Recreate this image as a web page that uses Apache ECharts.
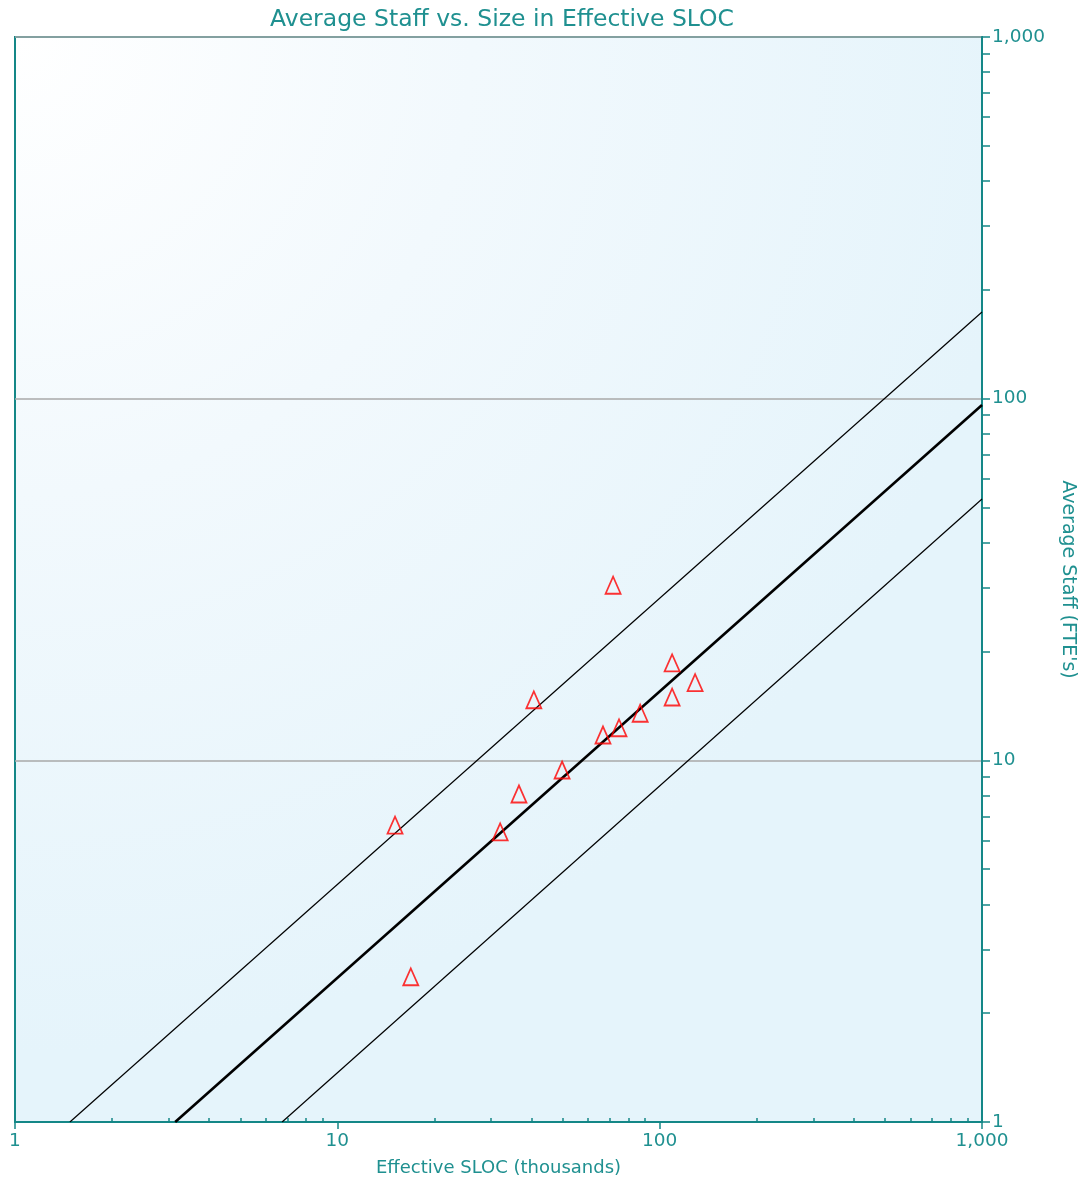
<!DOCTYPE html>
<html>
<head>
<meta charset="utf-8">
<script src="https://cdn.jsdelivr.net/npm/echarts@6/dist/echarts.min.js"></script>
<style>
  html, body { margin: 0; padding: 0; background: #ffffff; }
  #chart { width: 1083px; height: 1181px; }
</style>
</head>
<body>
<div id="chart"></div>
<script>
// Project observations: size (thousands of effective SLOC) vs. average staff (FTE's)
const sizeKsloc = [15.1, 16.9, 32.0, 36.6, 40.7, 49.8, 66.7, 74.8, 71.7, 87.0, 109.3, 109.3, 128.8];
const avgStaff  = [6.62, 2.52, 6.34, 8.07, 14.7, 9.40, 11.75, 12.3, 30.5, 13.5, 18.6, 14.96, 16.4];

// Trend line and its +/- one standard deviation bands (end points on the plot edges)
const trendX = [3.14, 1000];
const trendY = [1, 96];
const upperX = [1.48, 1000];
const upperY = [1, 173.6];
const lowerX = [6.74, 1000];
const lowerY = [1, 52.8];

// Axis ticks
const majorTicks = [1, 10, 100, 1000];
const minorTicks = [2, 3, 4, 5, 6, 7, 8, 9, 20, 30, 40, 50, 60, 70, 80, 90, 200, 300, 400, 500, 600, 700, 800, 900];

const teal = '#148787';
const tealText = '#1f9090';
const font = 'DejaVu Sans';

const zip = (xs, ys) => xs.map((x, i) => [x, ys[i]]);
const fmt = v => Number(v).toLocaleString('en-US');

const chart = echarts.init(document.getElementById('chart'), null, { renderer: 'canvas' });

chart.setOption({
  animation: false,
  title: {
    text: 'Average Staff vs. Size in Effective SLOC',
    left: 497, top: 3, textAlign: 'center',
    textStyle: { color: tealText, fontFamily: font, fontWeight: 'normal', fontSize: 23.5 }
  },
  grid: {
    left: 15, right: 101, top: 37, bottom: 59,
    outerBoundsMode: 'none',
    containLabel: false,
    show: true,
    borderColor: teal, borderWidth: 2,
    backgroundColor: {
      type: 'radial', x: 0, y: 0, r: 1.05,
      colorStops: [
        { offset: 0, color: '#ffffff' },
        { offset: 0.45, color: '#f2f9fd' },
        { offset: 1, color: '#e5f4fb' }
      ]
    }
  },
  xAxis: [
    {
      type: 'log', logBase: 10, min: 1, max: 1000,
      position: 'bottom',
      name: 'Effective SLOC (thousands)',
      nameLocation: 'middle', nameGap: 37,
      nameTextStyle: { color: tealText, fontFamily: font, fontSize: 18 },
      axisLine: { show: true, lineStyle: { color: teal, width: 2 } },
      axisTick: { show: true, inside: false, length: 7, lineStyle: { color: teal, width: 1.5 }, customValues: majorTicks },
      axisLabel: { show: true, margin: 10, color: tealText, fontFamily: font, fontSize: 18.5, formatter: fmt, customValues: majorTicks },
      splitLine: { show: false },
      minorTick: { show: false }
    },
    {
      type: 'log', logBase: 10, min: 1, max: 1000,
      position: 'bottom',
      axisLine: { show: false },
      axisTick: { show: true, inside: true, length: 4, lineStyle: { color: teal, width: 1.5 }, customValues: minorTicks },
      axisLabel: { show: false },
      splitLine: { show: false }
    }
  ],
  yAxis: [
    {
      type: 'log', logBase: 10, min: 1, max: 1000,
      position: 'right',
      name: "Average Staff (FTE's)",
      nameLocation: 'middle', nameGap: 76, nameRotate: -90,
      nameTextStyle: { color: tealText, fontFamily: font, fontSize: 19 },
      axisLine: { show: true, lineStyle: { color: teal, width: 2 } },
      axisTick: { show: true, inside: false, length: 8, lineStyle: { color: teal, width: 1.5 }, customValues: majorTicks },
      axisLabel: { show: true, margin: 10, color: tealText, fontFamily: font, fontSize: 18.5, formatter: fmt, customValues: majorTicks },
      splitLine: { show: true, lineStyle: { color: '#a9a9a9', width: 1.5 } }
    },
    {
      type: 'log', logBase: 10, min: 1, max: 1000,
      position: 'right',
      axisLine: { show: false },
      axisTick: { show: true, inside: false, length: 8, lineStyle: { color: teal, width: 1.5 }, customValues: minorTicks },
      axisLabel: { show: false },
      splitLine: { show: false }
    }
  ],
  series: [
    {
      type: 'line', data: zip(upperX, upperY), symbol: 'none', silent: true,
      lineStyle: { color: '#000000', width: 1.2 }, z: 2
    },
    {
      type: 'line', data: zip(trendX, trendY), symbol: 'none', silent: true,
      lineStyle: { color: '#000000', width: 2.6 }, z: 2
    },
    {
      type: 'line', data: zip(lowerX, lowerY), symbol: 'none', silent: true,
      lineStyle: { color: '#000000', width: 1.2 }, z: 2
    },
    {
      type: 'scatter', data: zip(sizeKsloc, avgStaff),
      symbol: 'triangle', symbolSize: [15, 17],
      itemStyle: { color: 'rgba(0,0,0,0)', borderColor: '#ff0000', borderWidth: 1.8 },
      z: 5
    }
  ]
});
</script>
</body>
</html>
